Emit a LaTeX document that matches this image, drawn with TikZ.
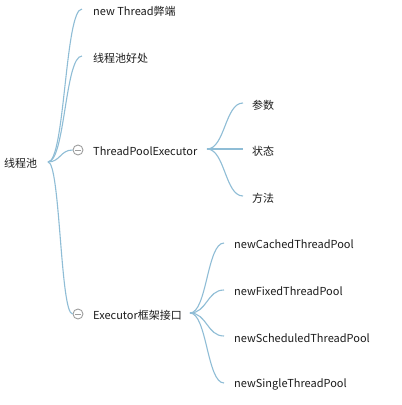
\documentclass[tikz,border=0pt]{standalone}
\usepackage{fontspec}
\setmainfont{Noto Sans CJK SC}
\usetikzlibrary{calc}
\definecolor{linec}{HTML}{8FBDD6}
\definecolor{circc}{HTML}{9E9E9E}
\definecolor{txtc}{HTML}{1C1C1C}
\newcommand\mmbranch[2]{\draw[br] let \p1=(#1), \p2=(#2) in (\p1) .. controls ({(\x1+\x2)/2},\y1) and ({(\x1+\x2)/2},\y2) .. (\p2);}
\begin{document}
\begin{tikzpicture}[x=1pt,y=-1pt,
  txt/.style={anchor=west, inner sep=0pt, text=txtc, font=\fontsize{11}{13}\selectfont},
  br/.style={draw=linec, line width=1.1pt},
  fold/.style={circle, draw=circc, line width=0.9pt, minimum size=10pt, inner sep=0pt, fill=white}]
\fill[white] (0,0) rectangle (402,405);
\useasboundingbox (0,0) rectangle (402,405);
% root
\node[txt] (root) at (4,163) {线程池};
\coordinate (r) at (48,162);
% level 1
\node[txt] (a) at (93,11) {new Thread弊端};
\coordinate (ae) at (82,9);
\node[txt] (b) at (93,58) {线程池好处};
\coordinate (be) at (82,56);
\node[txt] (c) at (93,151) {ThreadPoolExecutor};
\node[fold] (cf) at (78,150) {};
\node[txt] (d) at (93,315) {Executor框架接口};
\node[fold] (df) at (78,314) {};
\mmbranch{r}{ae}
\mmbranch{r}{be}
\mmbranch{r}{cf.west}
\mmbranch{r}{df.west}
\draw[circc, line width=0.9pt] ($(cf.center)+(-3,0)$) -- ($(cf.center)+(3,0)$);
\draw[circc, line width=0.9pt] ($(df.center)+(-3,0)$) -- ($(df.center)+(3,0)$);
% ThreadPoolExecutor children
\coordinate (cs) at (207,149);
\node[txt] (c1) at (252,105) {参数};
\coordinate (c1e) at (243,103);
\node[txt] (c2) at (252,151) {状态};
\coordinate (c2e) at (243,149);
\node[txt] (c3) at (252,198) {方法};
\coordinate (c3e) at (243,196);
\mmbranch{cs}{c1e}
\mmbranch{cs}{c2e}
\mmbranch{cs}{c3e}
% Executor children
\coordinate (ds) at (190,313);
\node[txt] (d1) at (234,244) {newCachedThreadPool};
\coordinate (d1e) at (224,243);
\node[txt] (d2) at (234,291) {newFixedThreadPool};
\coordinate (d2e) at (224,290);
\node[txt] (d3) at (234,338) {newScheduledThreadPool};
\coordinate (d3e) at (224,336);
\node[txt] (d4) at (234,384) {newSingleThreadPool};
\coordinate (d4e) at (224,383);
\mmbranch{ds}{d1e}
\mmbranch{ds}{d2e}
\mmbranch{ds}{d3e}
\mmbranch{ds}{d4e}
\end{tikzpicture}
\end{document}
